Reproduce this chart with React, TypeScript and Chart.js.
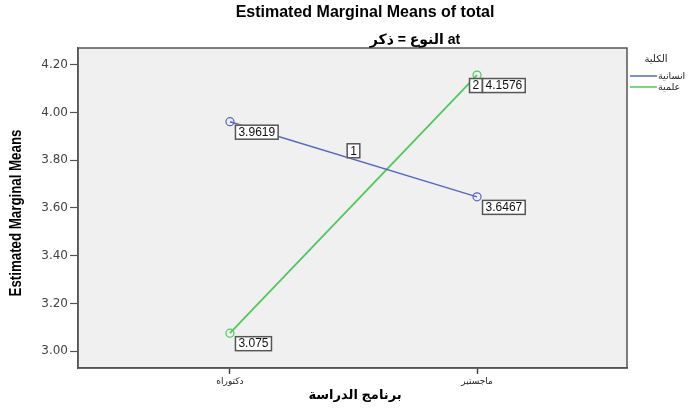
import React, { useEffect, useRef } from "react";
import { Chart, registerables } from "chart.js";

Chart.register(...registerables);

const categories = ["دكتوراه", "ماجستير"];
const seriesNames = ["انسانية", "علمية"];
const humanitiesValues = [3.9619, 3.6467];
const scienceValues = [3.075, 4.1576];
const yTicks = [3.0, 3.2, 3.4, 3.6, 3.8, 4.0, 4.2];
const lineColors = ["#5468c4", "#4ec95c"];

const titleText = "Estimated Marginal Means of total";
const subtitleText = "at النوع = ذكر";
const xTitle = "برنامج الدراسة";
const yTitle = "Estimated Marginal Means";
const legendTitle = "الكلية";

const FONT = "'Liberation Sans', Arial, 'DejaVu Sans', sans-serif";

function drawBox(ctx: CanvasRenderingContext2D, x: number, y: number, text: string) {
  ctx.font = `12px ${FONT}`;
  const w = ctx.measureText(text).width + 7;
  const h = 15;
  ctx.fillStyle = "#ffffff";
  ctx.fillRect(x, y, w, h);
  ctx.strokeStyle = "#555555";
  ctx.lineWidth = 1.5;
  ctx.strokeRect(x + 0.5, y + 0.5, w - 1, h - 1);
  ctx.fillStyle = "#111111";
  ctx.textAlign = "left";
  ctx.textBaseline = "middle";
  ctx.fillText(text, x + 3.5, y + h / 2 + 0.5);
}

const decorPlugin = {
  id: "decor",
  beforeDraw(chart: any) {
    const { ctx, chartArea } = chart;
    ctx.save();
    ctx.fillStyle = "#f0f0f0";
    ctx.fillRect(chartArea.left, chartArea.top, chartArea.right - chartArea.left, chartArea.bottom - chartArea.top);
    ctx.restore();
  },
  afterDraw(chart: any) {
    const { ctx, chartArea, scales } = chart;
    const xs = scales.x;
    const ys = scales.y;
    ctx.save();
    ctx.strokeStyle = "#555555";
    ctx.lineWidth = 1.5;
    ctx.strokeRect(chartArea.left, chartArea.top, chartArea.right - chartArea.left, chartArea.bottom - chartArea.top);

    ctx.fillStyle = "#000000";
    ctx.textAlign = "center";
    ctx.textBaseline = "middle";
    ctx.font = `bold 16px ${FONT}`;
    ctx.fillText(titleText, 365, 13);

    ctx.save();
    ctx.direction = "rtl";
    ctx.font = `bold 14px ${FONT}`;
    ctx.fillText(subtitleText, 415, 40);
    ctx.font = `bold 13px ${FONT}`;
    ctx.fillText(xTitle, 355, 395);
    ctx.restore();

    ctx.save();
    ctx.translate(17, 213);
    ctx.rotate(-Math.PI / 2);
    ctx.scale(0.83, 1);
    ctx.font = `bold 16px ${FONT}`;
    ctx.fillText(yTitle, 0, 0);
    ctx.restore();

    const all = [humanitiesValues, scienceValues];
    all.forEach((vals) => {
      vals.forEach((v, i) => {
        const px = xs.getPixelForValue(i);
        const py = ys.getPixelForValue(v);
        drawBox(ctx, px + 5, py + 3, String(v));
      });
    });

    ctx.font = `12px ${FONT}`;
    const l1x = xs.getPixelForValue(0.5);
    const l1y = ys.getPixelForValue((humanitiesValues[0] + humanitiesValues[1]) / 2);
    const w1 = ctx.measureText("1").width + 7;
    drawBox(ctx, l1x - w1 / 2, l1y - 16, "1");
    const l2x = xs.getPixelForValue(1);
    const l2y = ys.getPixelForValue(scienceValues[1]);
    drawBox(ctx, l2x - 8, l2y + 3, "2");

    ctx.font = `10px ${FONT}`;
    ctx.fillStyle = "#222222";
    ctx.textAlign = "center";
    ctx.fillText(legendTitle, 656, 59);
    seriesNames.forEach((name, i) => {
      const y = 76 + i * 11;
      ctx.strokeStyle = lineColors[i];
      ctx.lineWidth = 1.5;
      ctx.beginPath();
      ctx.moveTo(630, y);
      ctx.lineTo(657, y);
      ctx.stroke();
      ctx.font = `9.5px ${FONT}`;
      ctx.fillStyle = "#222222";
      ctx.textAlign = "left";
      ctx.fillText(name, 658, y);
    });
    ctx.restore();
  },
};

export default function App() {
  const ref = useRef<HTMLCanvasElement | null>(null);
  useEffect(() => {
    if (!ref.current) return;
    const chart = new Chart(ref.current, {
      type: "line",
      data: {
        datasets: [
          {
            label: seriesNames[0],
            data: humanitiesValues.map((v, i) => ({ x: i, y: v })),
            borderColor: lineColors[0],
            backgroundColor: "rgba(0,0,0,0)",
            borderWidth: 1.5,
            pointRadius: 4,
            pointBorderWidth: 1.2,
            pointBackgroundColor: "rgba(0,0,0,0)",
            pointBorderColor: lineColors[0],
          },
          {
            label: seriesNames[1],
            data: scienceValues.map((v, i) => ({ x: i, y: v })),
            borderColor: lineColors[1],
            backgroundColor: "rgba(0,0,0,0)",
            borderWidth: 1.8,
            pointRadius: 4,
            pointBorderWidth: 1.2,
            pointBackgroundColor: "rgba(0,0,0,0)",
            pointBorderColor: lineColors[1],
          },
        ],
      },
      options: {
        animation: false,
        responsive: false,
        maintainAspectRatio: false,
        devicePixelRatio: 1,
        layout: { padding: { left: 0, top: 48, right: 64, bottom: 0 } },
        plugins: {
          legend: { display: false },
          title: { display: false },
          tooltip: { enabled: false },
        },
        scales: {
          x: {
            type: "linear",
            min: -0.615,
            max: 1.607,
            afterBuildTicks: (s: any) => {
              s.ticks = categories.map((_, i) => ({ value: i }));
            },
            afterFit: (s: any) => {
              s.height = 43;
            },
            ticks: {
              callback: (v: any) => categories[v as number] ?? "",
              font: { size: 9, family: FONT },
              color: "#222222",
              padding: 2,
              maxRotation: 0,
              autoSkip: false,
            },
            grid: { drawOnChartArea: false, drawTicks: true, tickLength: 6, tickColor: "#444444", tickWidth: 1.5 },
            border: { display: true, color: "#555555", width: 1.5 },
          },
          y: {
            type: "linear",
            min: 2.929,
            max: 4.271,
            afterBuildTicks: (s: any) => {
              s.ticks = yTicks.map((v) => ({ value: v }));
            },
            afterFit: (s: any) => {
              s.width = 78;
            },
            ticks: {
              callback: (v: any) => Number(v).toFixed(2),
              font: { size: 12, family: "'DejaVu Sans', sans-serif" },
              color: "#444444",
              padding: 2,
              autoSkip: false,
            },
            grid: { drawOnChartArea: false, drawTicks: true, tickLength: 8, tickColor: "#555555", tickWidth: 1.2 },
            border: { display: true, color: "#555555", width: 1.5 },
          },
        },
      },
      plugins: [decorPlugin],
    } as any);
    return () => chart.destroy();
  }, []);
  return (
    <div style={{ position: "absolute", left: 0, top: 0, width: 691, height: 411, background: "#ffffff" }}>
      <canvas ref={ref} width={691} height={411} style={{ width: 691, height: 411, display: "block" }} />
    </div>
  );
}
